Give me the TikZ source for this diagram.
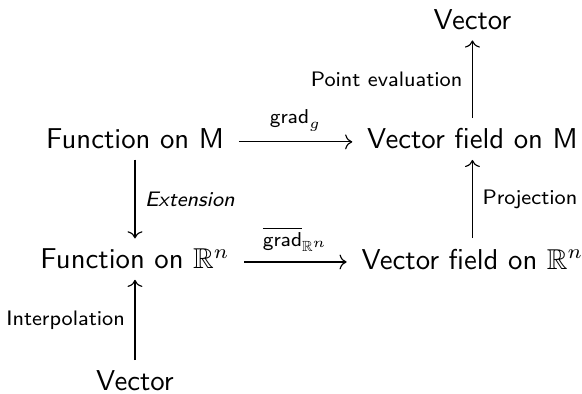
\documentclass[tikz,border=0pt]{standalone}
\usepackage{amsmath,amssymb}
\usetikzlibrary{arrows.meta,positioning}

\begin{document}
\begin{tikzpicture}[
    node distance=1.47cm and 4.13cm, on grid,
    cell/.style={inner xsep=5pt, inner ysep=3.5pt, font=\sffamily},
    lbl/.style={font=\sffamily\fontsize{7.3}{8.8}\selectfont},
    arrow/.style={-{Computer Modern Rightarrow}, line width=0.4pt}
]
    \useasboundingbox (-1.652,-3.109) rectangle (5.471,1.701);

    \node[cell] (funcM) at (0,0) {Function on M};
    \node[cell, right=of funcM] (fieldM) {Vector field on M};
    \node[cell, above=of fieldM, yshift=-0.01cm] (vecTop) {Vector};
    \node[cell, below=of funcM] (funcR) {Function on $\mathbb{R}^n$};
    \node[cell, right=of funcR] (fieldR) {Vector field on $\mathbb{R}^n$};
    \node[cell, below=of funcR, yshift=-0.02cm] (vecBot) {Vector};

    \draw[arrow] ([yshift=-1pt]funcM.east) -- node[lbl, above] {$\mathsf{grad}_g$} ([yshift=-1pt]fieldM.west);
    \draw[arrow] ([yshift=-1pt]funcR.east) -- node[lbl, above] {$\overline{\mathsf{grad}}_{\mathbb{R}^n}$} ([yshift=-1pt]fieldR.west);
    \draw[arrow] (funcM) -- node[lbl, right] {\itshape Extension} (funcR);
    \draw[arrow] (vecBot) -- node[lbl, left] {Interpolation} (funcR);
    \draw[arrow] (fieldR) -- node[lbl, right] {Projection} (fieldM);
    \draw[arrow] (fieldM) -- node[lbl, left] {Point evaluation} (vecTop);
\end{tikzpicture}
\end{document}
